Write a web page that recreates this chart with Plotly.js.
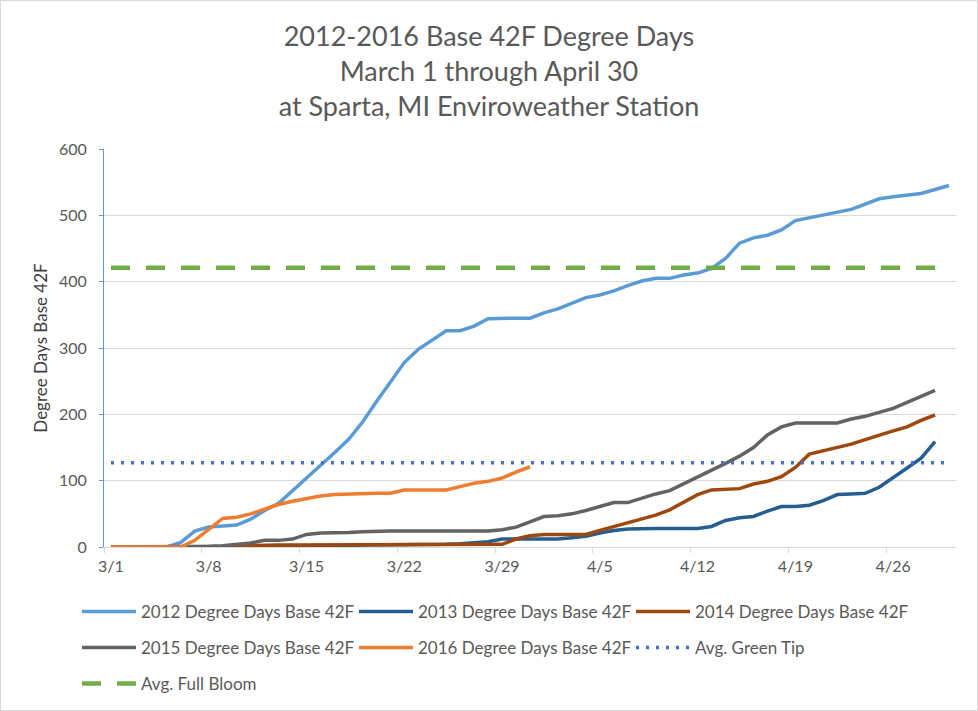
<!DOCTYPE html>
<html>
<head>
<meta charset="utf-8">
<script src="https://cdn.plot.ly/plotly-3.0.1.min.js"></script>
<style>
  html, body { margin: 0; padding: 0; background: #fff; }
  #wrap { position: relative; width: 978px; height: 711px; }
  #chart { width: 978px; height: 711px; }
  #frame { position: absolute; left: 0; top: 0; width: 978px; height: 711px; box-sizing: border-box; border: 1px solid #d9d9d9; pointer-events: none; }
</style>
</head>
<body>
<div id="wrap"><div id="chart"></div><div id="frame"></div></div>
<script>
// Day categories, March 1 to April 30
const categories = [
  "3/1","3/2","3/3","3/4","3/5","3/6","3/7","3/8","3/9","3/10",
  "3/11","3/12","3/13","3/14","3/15","3/16","3/17","3/18","3/19","3/20",
  "3/21","3/22","3/23","3/24","3/25","3/26","3/27","3/28","3/29","3/30","3/31",
  "4/1","4/2","4/3","4/4","4/5","4/6","4/7","4/8","4/9","4/10",
  "4/11","4/12","4/13","4/14","4/15","4/16","4/17","4/18","4/19","4/20",
  "4/21","4/22","4/23","4/24","4/25","4/26","4/27","4/28","4/29","4/30"
];

const dd2012 = [0,0,0,0,0,7,24,30,31,33,
  42,55,66,85,103,122,142,162,188,219,
  249,278,298,312,326,326,333,344,345,345,345,
  353,359,368,376,380,386,394,401,405,405,
  410,413,420,435,458,466,470,478,492,496,
  500,504,509,517,525,528,531,533,539,545];

const dd2013 = [0,0,0,0,0,0,0,0,0,0,
  1,1,1,1,1,1,1,1,3,3,
  3,3,3,3,4,5,7,8,12,12,12,
  12,12,14,16,21,25,27,28,28,28,
  28,28,31,40,44,46,54,61,61,63,
  70,79,80,81,90,104,119,134,159];

const dd2014 = [0,0,0,0,0,0,0,0,0,0,
  2,3,3,3,3,3,3,4,4,4,
  4,4,4,4,4,4,4,4,4,12,17,
  19,19,19,19,25,31,37,42,48,56,
  67,79,86,87,88,95,99,106,120,140,
  145,150,155,162,169,175,181,191,199];

const dd2015 = [0,0,0,0,0,0,0,1,2,4,
  6,10,10,12,19,21,21,22,23,24,
  24,24,24,24,24,24,24,24,26,30,38,
  46,47,50,55,61,67,67,74,80,85,
  95,105,115,126,137,150,169,181,187,187,
  187,187,193,197,203,209,218,227,236];

const dd2016 = [0,0,0,0,0,0,10,27,43,45,
  50,57,64,69,73,77,79,80,80,81,
  81,86,86,86,86,91,96,99,104,113,121];

const avgGreenTip = 127;
const avgFullBloom = 421;
const greenTipDays = categories.length;      // drawn across all days
const fullBloomDays = categories.length - 1;  // drawn through 4/29

const seriesNames = [
  "2012 Degree Days Base 42F",
  "2013 Degree Days Base 42F",
  "2014 Degree Days Base 42F",
  "2015 Degree Days Base 42F",
  "2016 Degree Days Base 42F",
  "Avg. Green Tip",
  "Avg. Full Bloom"
];

const FONT = 'Lato, "Liberation Sans", Arial, sans-serif';
const TXT = '#595959';

function line(name, ys, color, legend, extra) {
  return Object.assign({
    type: 'scatter', mode: 'lines', name: name,
    x: categories.slice(0, ys.length), y: ys,
    line: {color: color, width: 3.5},
    legend: legend, hoverinfo: 'x+y+name'
  }, extra || {});
}

const greenTip = categories.slice(0, greenTipDays).map(() => avgGreenTip);
const fullBloom = categories.slice(0, fullBloomDays).map(() => avgFullBloom);

const traces = [
  line(seriesNames[0], dd2012, '#5b9bd5', 'legend'),
  line(seriesNames[1], dd2013, '#255e91', 'legend'),
  line(seriesNames[2], dd2014, '#9e480e', 'legend'),
  line(seriesNames[3], dd2015, '#636363', 'legend2'),
  line(seriesNames[4], dd2016, '#ed7d31', 'legend2'),
  line(seriesNames[5], greenTip, '#4472c4', 'legend2', {line: {color: '#4472c4', width: 3.5, dash: '3px,7px'}}),
  line(seriesNames[6], fullBloom, '#70ad47', 'legend3', {line: {color: '#70ad47', width: 4.5, dash: '19px,16px'}})
];

const plotL = 104, plotR = 956, plotT = 149, plotB = 547;
const pw = plotR - plotL, ph = plotB - plotT;
function px2x(px) { return (px - plotL) / pw; }
function py2y(py) { return (plotB - py) / ph; }

function legendAt(rowY) {
  return {
    orientation: 'h', x: px2x(77), xanchor: 'left', y: py2y(rowY), yanchor: 'middle',
    entrywidth: 208, entrywidthmode: 'pixels', itemwidth: 54,
    font: {family: FONT, size: 17, color: TXT},
    bgcolor: 'rgba(0,0,0,0)', borderwidth: 0, traceorder: 'normal'
  };
}

const layout = {
  width: 978, height: 711,
  margin: {l: plotL, r: 978 - plotR, t: plotT, b: 711 - plotB, autoexpand: false},
  paper_bgcolor: '#ffffff', plot_bgcolor: '#ffffff',
  font: {family: FONT, color: TXT},
  title: {
    text: '2012-2016 Base 42F Degree Days<br>March 1 through April 30<br>at Sparta, MI Enviroweather Station',
    font: {family: FONT, size: 27, color: TXT},
    x: 0.5, xref: 'container', xanchor: 'center',
    y: 1 - 46 / 711, yref: 'container', yanchor: 'top'
  },
  xaxis: {
    type: 'category', categoryorder: 'array', categoryarray: categories,
    range: [-0.5, categories.length - 0.5],
    tickmode: 'linear', tick0: 0, dtick: 7, tickangle: 0,
    tickson: 'boundaries', ticks: 'outside', ticklen: 5, tickcolor: '#d9d9d9', tickwidth: 1,
    ticklabelstandoff: 5,
    showline: true, linecolor: '#d9d9d9', linewidth: 1,
    showgrid: false, zeroline: false,
    tickfont: {family: FONT, size: 16, color: TXT},
    automargin: false
  },
  yaxis: {
    range: [0, 600], tickmode: 'linear', tick0: 0, dtick: 100,
    showgrid: true, gridcolor: '#d9d9d9', gridwidth: 1,
    showline: true, linecolor: '#5b9bd5', linewidth: 1,
    ticks: 'outside', ticklen: 4, tickcolor: '#5b9bd5',
    ticklabelstandoff: 9,
    zeroline: false,
    tickfont: {family: FONT, size: 16, color: TXT},
    title: {text: 'Degree Days Base 42F', font: {family: FONT, size: 17, color: '#404040'}, standoff: 7},
    automargin: false
  },
  legend: legendAt(612),
  legend2: legendAt(648),
  legend3: legendAt(684),
  showlegend: true
};

Plotly.newPlot('chart', traces, layout, {displayModeBar: false, staticPlot: false});
</script>
</body>
</html>
